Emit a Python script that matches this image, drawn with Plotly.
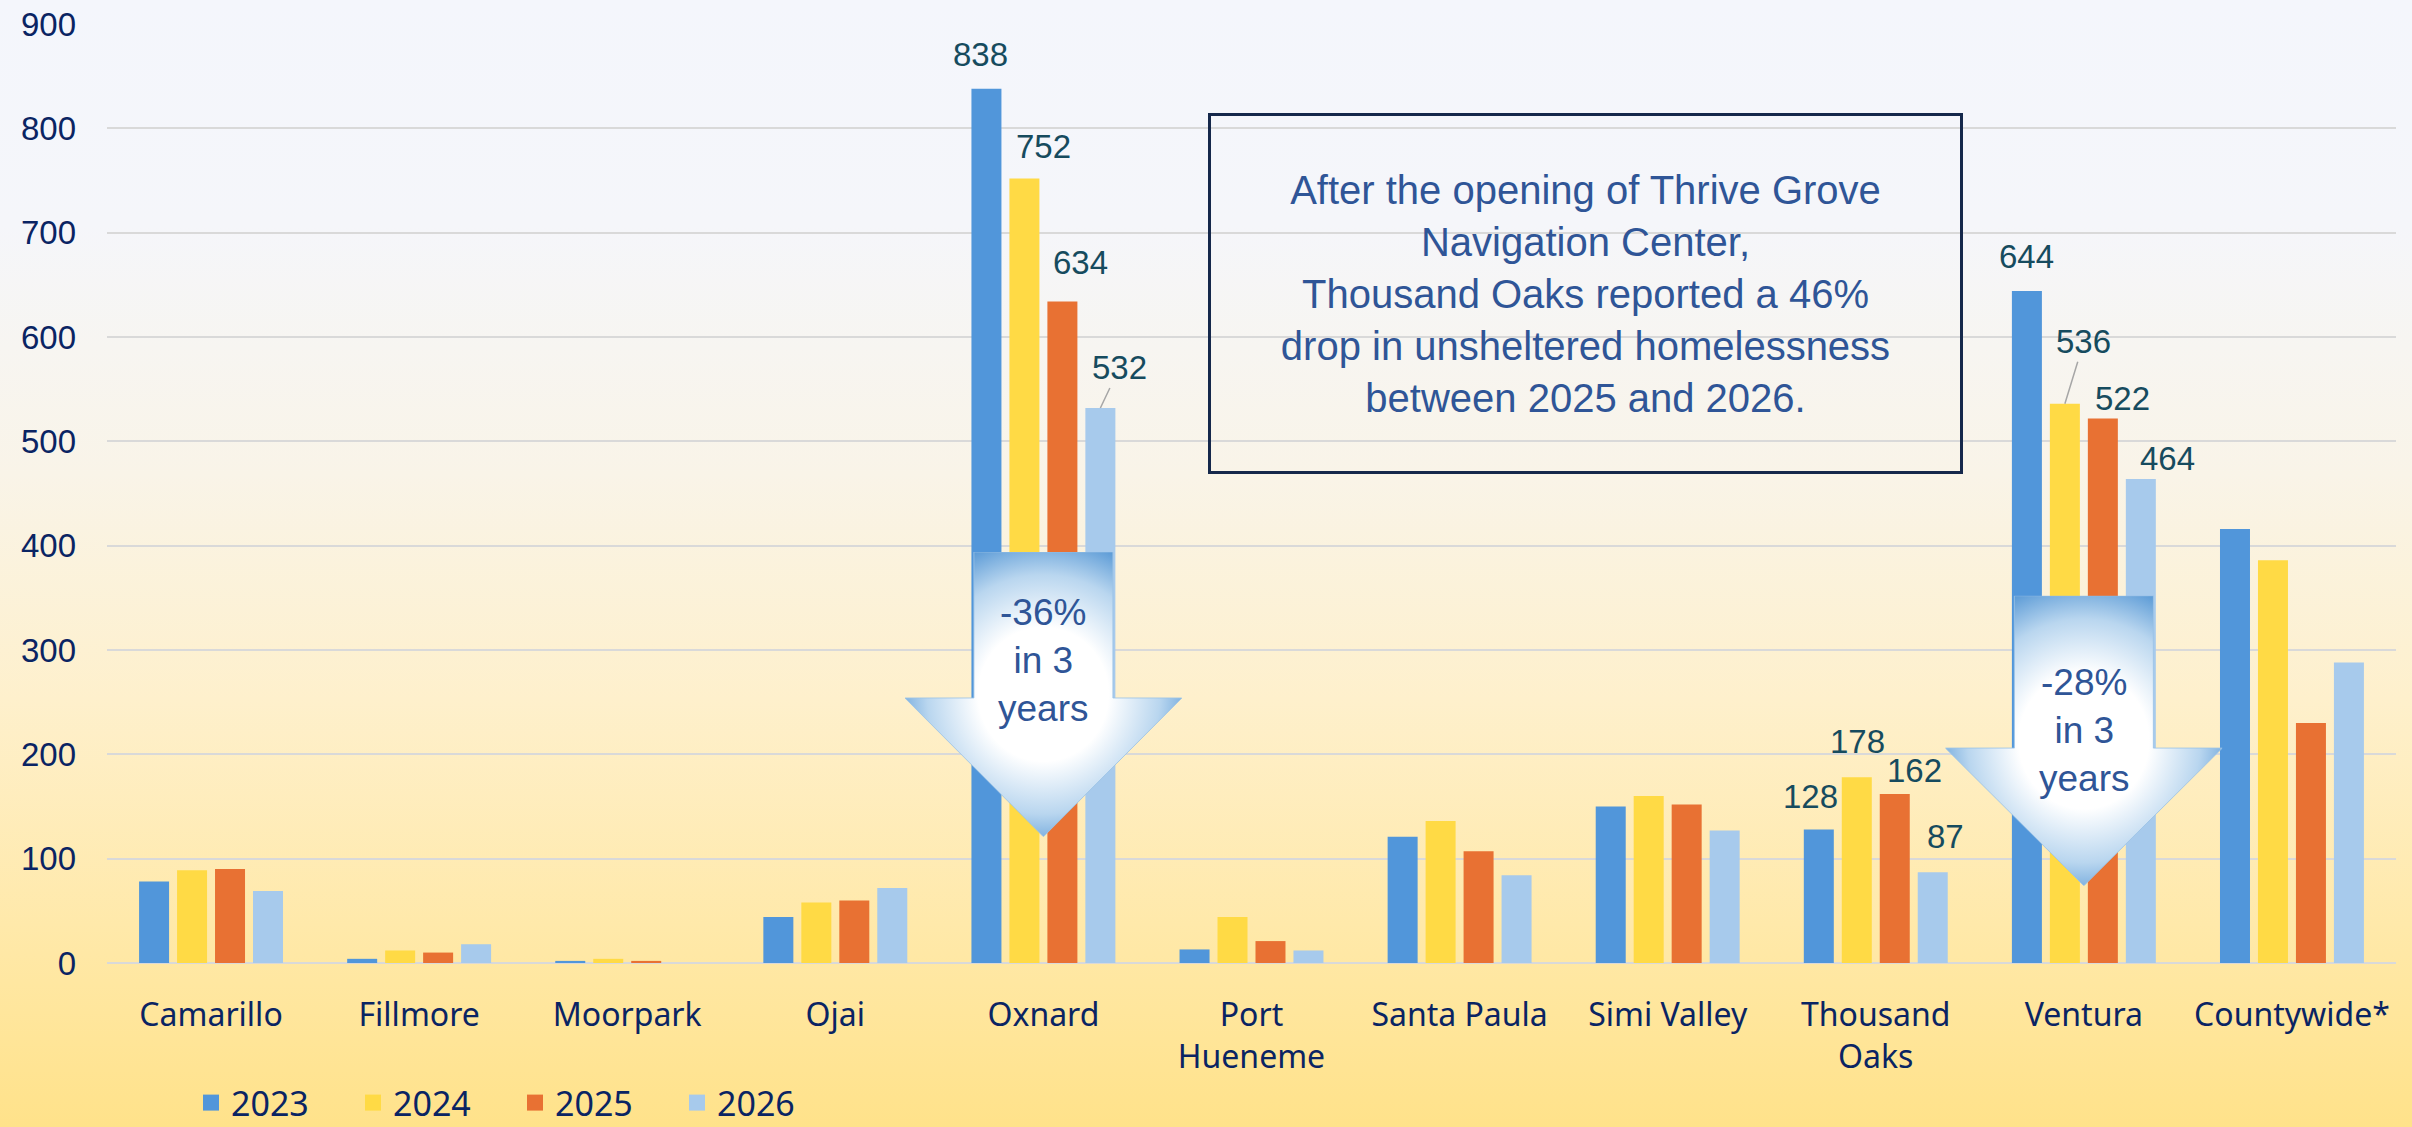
import base64
import plotly.graph_objects as go

# ---------------- data ----------------
categories = ["Camarillo", "Fillmore", "Moorpark", "Ojai", "Oxnard", "Port<br>Hueneme",
              "Santa Paula", "Simi Valley", "Thousand<br>Oaks", "Ventura", "Countywide*"]
years = ["2023", "2024", "2025", "2026"]
v2023 = [78, 4, 2, 44, 838, 13, 121, 150, 128, 644, 416]
v2024 = [89, 12, 4, 58, 752, 44, 136, 160, 178, 536, 386]
v2025 = [90, 10, 2, 60, 634, 21, 107, 152, 162, 522, 230]
v2026 = [69, 18, 0, 72, 532, 12, 84, 127, 87, 464, 288]
labelled_categories = ["Oxnard", "Thousand<br>Oaks", "Ventura"]
arrow_texts = {"Oxnard": "-36%<br>in 3<br>years", "Ventura": "-28%<br>in 3<br>years"}
box_text = ("After the opening of Thrive Grove<br>Navigation Center,<br>"
            "Thousand Oaks reported a 46%<br>drop in unsheltered homelessness<br>"
            "between 2025 and 2026.")

# ---------------- styles ----------------
series = [v2023, v2024, v2025, v2026]
colors = ["#5196da", "#ffda45", "#e87133", "#a7caec"]
ARIAL = "Liberation Sans, Arial, sans-serif"
SANS = "Noto Sans, Lato, sans-serif"
NAVY = "#0a2463"
LABEL = "#164b5e"
BOXBLUE = "#2f5597"
W, H = 2412, 1127
ML, MR, MT, MB = 107, 16, 24, 164
PW, PH = W - ML - MR, H - MT - MB
BARGAP = 0.27

# label offsets (dx px, gap px above bar top, leader(ax, ay) or None)
label_style = {
    ("Oxnard", 0): (-6, 22, None), ("Oxnard", 1): (19, 19, None),
    ("Oxnard", 2): (18, 27, None), ("Oxnard", 3): (19, 40, (19, -40)),
    ("Thousand<br>Oaks", 0): (-8, 20, None), ("Thousand<br>Oaks", 1): (1, 23, None),
    ("Thousand<br>Oaks", 2): (20, 11, None), ("Thousand<br>Oaks", 3): (13, 23, None),
    ("Ventura", 0): (0, 22, None), ("Ventura", 1): (19, 60, (19, -62)),
    ("Ventura", 2): (20, 7, None), ("Ventura", 3): (27, 8, None),
}
# arrow geometry (axis units): top of shaft, top of head, tip, text centre
arrow_geom = {
    "Oxnard": dict(top=394, head=254, tip=121, text=290),
    "Ventura": dict(top=352, head=206, tip=74, text=223),
}
ARROW_W = 1.331   # head width in categories
SHAFT_FRAC = 0.502

fig = go.Figure()
for name, vals, col in zip(years, series, colors):
    fig.add_trace(go.Bar(x=categories, y=vals, name=name, showlegend=False, legendgroup=name,
                         marker=dict(color=col, line=dict(width=0))))
# legend entries (square swatches)
for name, col in zip(years, colors):
    fig.add_trace(go.Scatter(x=[None], y=[None], mode="markers", name=name, legendgroup=name,
                             marker=dict(symbol="square", size=22, color=col), hoverinfo="skip"))

annotations = []
slot = (1 - BARGAP) / 4
for cat in labelled_categories:
    i = categories.index(cat)
    for k, vals in enumerate(series):
        dx, gap, leader = label_style[(cat, k)]
        xpos = i + (k - 1.5) * slot
        if leader is None:
            annotations.append(dict(x=xpos, y=vals[i], xref="x", yref="y", text=str(vals[i]),
                                    showarrow=False, xanchor="center", yanchor="bottom",
                                    xshift=dx, yshift=gap - 8,
                                    font=dict(family=ARIAL, size=33, color=LABEL)))
        else:
            annotations.append(dict(x=xpos, y=vals[i], xref="x", yref="y", text=str(vals[i]),
                                    showarrow=True, arrowhead=0, arrowwidth=1.5, arrowcolor="#a6a6a6",
                                    ax=leader[0], ay=leader[1], standoff=0,
                                    font=dict(family=ARIAL, size=33, color=LABEL)))

images = []
def bg_uri():
    stops = [(0, "#f4f6fc"), (0.2, "#f5f6fa"), (0.42, "#f9f4e8"), (0.62, "#fef0cc"),
             (0.82, "#ffe9aa"), (1.0, "#ffe28a")]
    st = "".join(f'<stop offset="{o}" stop-color="{c}"/>' for o, c in stops)
    svg = ('<svg xmlns="http://www.w3.org/2000/svg" width="100" height="100" viewBox="0 0 100 100" '
           'preserveAspectRatio="none"><defs><linearGradient id="g" x1="0" y1="0" x2="0" y2="1">'
           f'{st}</linearGradient></defs><rect width="100" height="100" fill="url(#g)"/></svg>')
    return "data:image/svg+xml;base64," + base64.b64encode(svg.encode()).decode()

images.append(dict(source=bg_uri(), xref="paper", yref="paper", x=-ML / PW, y=1 + MT / PH,
                   sizex=W / PW, sizey=H / PH, xanchor="left", yanchor="top",
                   sizing="stretch", layer="below"))

def arrow_uri(head_frac):
    s0 = 500 - SHAFT_FRAC * 500
    s1 = 500 + SHAFT_FRAC * 500
    hy = head_frac * 1000
    path = f"M{s0},0 L{s1},0 L{s1},{hy} L1000,{hy} L500,1000 L0,{hy} L{s0},{hy} Z"
    svg = ('<svg xmlns="http://www.w3.org/2000/svg" width="1000" height="1000" viewBox="0 0 1000 1000" '
           'preserveAspectRatio="none"><defs><radialGradient id="r" cx="0.5" cy="0.5" r="0.56">'
           '<stop offset="0" stop-color="#ffffff"/><stop offset="0.42" stop-color="#ffffff"/>'
           '<stop offset="0.75" stop-color="#b9d6ef"/><stop offset="1" stop-color="#5a9ad6"/>'
           f'</radialGradient></defs><path d="{path}" fill="url(#r)" stroke="#9cc3e6" stroke-width="3"/></svg>')
    return "data:image/svg+xml;base64," + base64.b64encode(svg.encode()).decode()

for cat, g in arrow_geom.items():
    hf = (g["top"] - g["head"]) / (g["top"] - g["tip"])
    images.append(dict(source=arrow_uri(hf), xref="x", yref="y", x=cat, y=g["top"],
                       sizex=ARROW_W, sizey=g["top"] - g["tip"], xanchor="center", yanchor="top",
                       sizing="stretch", layer="above"))
    annotations.append(dict(x=cat, y=g["text"], xref="x", yref="y", text=arrow_texts[cat],
                            showarrow=False, xanchor="center", yanchor="middle",
                            font=dict(family=ARIAL, size=37, color=BOXBLUE)))

annotations.append(dict(xref="paper", yref="paper", x=(1585.5 - ML) / PW, y=(963 - 294) / PH,
                        xanchor="center", yanchor="middle", text=box_text, showarrow=False,
                        font=dict(family=ARIAL, size=40, color=BOXBLUE), align="center",
                        valign="middle", bordercolor="#15284b", borderwidth=3, borderpad=0,
                        width=749, height=355, bgcolor="rgba(0,0,0,0)"))

fig.update_layout(
    width=W, height=H, autosize=False,
    margin=dict(l=ML, r=MR, t=MT, b=MB, pad=0, autoexpand=False),
    paper_bgcolor="#fbf1d6", plot_bgcolor="rgba(0,0,0,0)",
    barmode="group", bargap=BARGAP, bargroupgap=0.21,
    xaxis=dict(type="category", showgrid=False, showline=False, zeroline=False,
               tickfont=dict(family=SANS, size=32, color=NAVY), ticks="", ticklabelstandoff=30),
    yaxis=dict(range=[0, 900], dtick=100, showgrid=True, gridcolor="#d9d9d9", gridwidth=2,
               zeroline=True, zerolinecolor="#d9d9d9", zerolinewidth=2, showline=False,
               tickfont=dict(family=ARIAL, size=33, color=NAVY), ticks="", ticklabelstandoff=30),
    legend=dict(orientation="h", x=(191 - ML) / PW, xanchor="left", y=(963 - 1103) / PH,
                yanchor="middle", font=dict(family=SANS, size=34, color=NAVY),
                bgcolor="rgba(0,0,0,0)", entrywidth=117, entrywidthmode="pixels",
                traceorder="normal"),
    annotations=annotations, images=images, showlegend=True,
)

fig.write_html("out.html", config={"displayModeBar": False},
               post_script="document.body.style.margin='0';document.body.style.overflow='hidden';")
